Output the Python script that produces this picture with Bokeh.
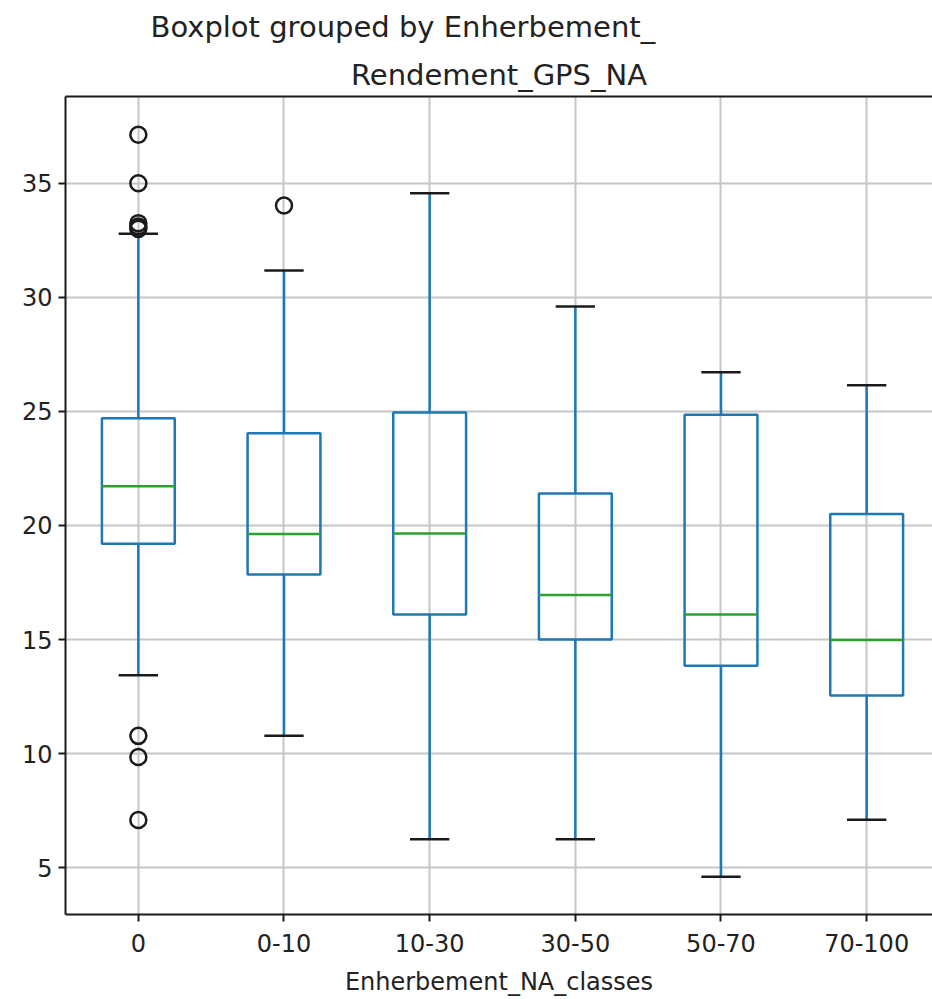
from bokeh.plotting import figure
from bokeh.models import ColumnDataSource, FixedTicker, LinearAxis, Title, Range1d
from bokeh.embed import file_html
from bokeh.resources import INLINE

# ---- data ----
categories = ["0", "0-10", "10-30", "30-50", "50-70", "70-100"]
q1 = [19.2, 17.85, 16.1, 15.0, 13.85, 12.55]
median = [21.72, 19.63, 19.65, 16.95, 16.1, 14.98]
q3 = [24.7, 24.04, 24.95, 21.4, 24.85, 20.5]
whisker_low = [13.44, 10.78, 6.25, 6.25, 4.6, 7.1]
whisker_high = [32.79, 31.17, 34.56, 29.6, 26.72, 26.15]
flier_category = ["0", "0", "0", "0", "0", "0", "0", "0", "0-10"]
flier_value = [37.12, 35.0, 33.25, 33.1, 33.0, 10.78, 9.85, 7.09, 34.02]
y_ticks = [5, 10, 15, 20, 25, 30, 35]

BLUE = "#1f77b4"
GREEN = "#2ca02c"
TEXT = "#222222"
FONT = "DejaVu Sans"

pos = [i + 1 for i in range(len(categories))]
idx = {c: i + 1 for i, c in enumerate(categories)}
box_w = 0.5
cap_w = 0.27

src = ColumnDataSource(dict(
    x=pos,
    left=[p - box_w / 2 for p in pos],
    right=[p + box_w / 2 for p in pos],
    cl=[p - cap_w / 2 for p in pos],
    cr=[p + cap_w / 2 for p in pos],
    q1=q1, q3=q3, med=median, lo=whisker_low, hi=whisker_high,
))
fsrc = ColumnDataSource(dict(x=[idx[c] for c in flier_category], y=flier_value))

p = figure(width=932, height=999, output_backend="svg", toolbar_location=None,
           x_range=Range1d(0.5, 6.452), y_range=Range1d(2.95, 38.8),
           min_border_left=65, min_border_right=0, min_border_top=95, min_border_bottom=85)
p.outline_line_color = None
p.background_fill_color = "white"
p.border_fill_color = "white"

# grid
for g in (p.xgrid, p.ygrid):
    g.grid_line_color = "#c6c6c6"
    g.grid_line_width = 2

# axes
p.xaxis.ticker = FixedTicker(ticks=pos)
p.xaxis.major_label_overrides = {p_: c for p_, c in zip(pos, categories)}
p.yaxis.ticker = FixedTicker(ticks=y_ticks)
p.xaxis.axis_label = "Enherbement_NA_classes"
for ax in (p.xaxis[0], p.yaxis[0]):
    ax.axis_line_color = "#1a1a1a"
    ax.axis_line_width = 2
    ax.major_tick_line_color = "#1a1a1a"
    ax.major_tick_line_width = 2
    ax.major_tick_out = 7
    ax.major_tick_in = 0
    ax.minor_tick_line_color = None
    ax.major_label_text_font = FONT
    ax.major_label_text_font_size = "24px"
    ax.major_label_text_color = TEXT
    ax.axis_label_text_font = FONT
    ax.axis_label_text_font_size = "24px"
    ax.axis_label_text_font_style = "normal"
    ax.axis_label_text_color = TEXT
p.xaxis.major_label_standoff = 12
p.xaxis.axis_label_standoff = 13
p.yaxis.major_label_standoff = 6

# top spine
top = LinearAxis(ticker=FixedTicker(ticks=[]), axis_line_color="#1a1a1a", axis_line_width=2,
                 major_tick_line_color=None, minor_tick_line_color=None)
p.add_layout(top, "above")

# titles
p.add_layout(Title(text="Rendement_GPS_NA", align="center", text_font=FONT,
                   text_font_size="29px", text_font_style="normal", text_color=TEXT,
                   standoff=10), "above")
p.add_layout(Title(text="Boxplot grouped by Enherbement_", align="left", offset=85,
                   text_font=FONT, text_font_size="29px", text_font_style="normal",
                   text_color=TEXT, standoff=14), "above")

# whiskers
p.segment(x0="x", y0="q3", x1="x", y1="hi", source=src, line_color=BLUE, line_width=2.5)
p.segment(x0="x", y0="q1", x1="x", y1="lo", source=src, line_color=BLUE, line_width=2.5)
# caps
p.segment(x0="cl", y0="hi", x1="cr", y1="hi", source=src, line_color="#1a1a1a", line_width=2.5)
p.segment(x0="cl", y0="lo", x1="cr", y1="lo", source=src, line_color="#1a1a1a", line_width=2.5)
# boxes
p.quad(left="left", right="right", bottom="q1", top="q3", source=src,
       fill_color=None, line_color=BLUE, line_width=2.5)
# medians
p.segment(x0="left", y0="med", x1="right", y1="med", source=src, line_color=GREEN, line_width=2.5)
# fliers
p.scatter(x="x", y="y", source=fsrc, marker="circle", size=16, fill_color=None,
          line_color="#1a1a1a", line_width=2.5)

open("out.html", "w").write(file_html(p, INLINE))
